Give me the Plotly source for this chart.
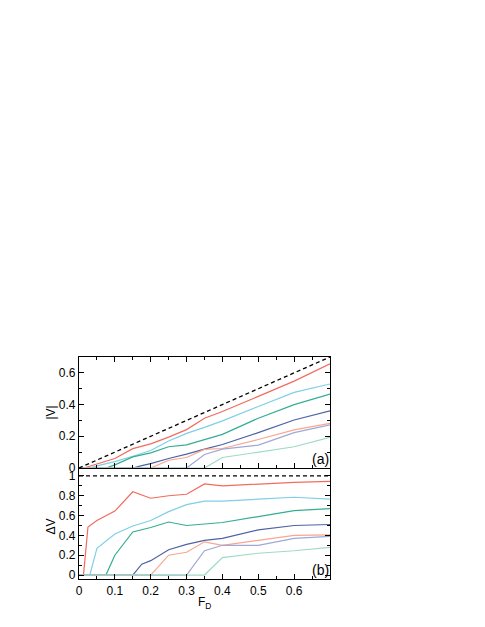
import plotly.graph_objects as go

# colours of the seven curves
colors = ["#f26b5e", "#7fcfe6", "#35ad93", "#4f62a6", "#f9a68e", "#a0a8d6", "#9fdac4"]

# panel (a): |V| vs F_D
xa = [
    [0, 0.0125, 0.025, 0.05, 0.1, 0.15, 0.2, 0.25, 0.3, 0.35, 0.4, 0.5, 0.6, 0.7],
    [0, 0.03, 0.05, 0.1, 0.15, 0.2, 0.25, 0.3, 0.35, 0.4, 0.5, 0.6, 0.7],
    [0, 0.075, 0.1, 0.15, 0.2, 0.25, 0.3, 0.35, 0.4, 0.5, 0.6, 0.7],
    [0, 0.15, 0.175, 0.2, 0.25, 0.3, 0.35, 0.4, 0.5, 0.6, 0.7],
    [0, 0.2, 0.25, 0.3, 0.35, 0.4, 0.5, 0.6, 0.7],
    [0, 0.3, 0.35, 0.4, 0.5, 0.6, 0.7],
    [0, 0.35, 0.4, 0.5, 0.6, 0.7],
]
ya = [
    [0, 0, 0.008, 0.025, 0.06, 0.122, 0.152, 0.195, 0.242, 0.314, 0.356, 0.452, 0.548, 0.657],
    [0, 0, 0.013, 0.04, 0.074, 0.11, 0.17, 0.218, 0.256, 0.297, 0.388, 0.477, 0.53],
    [0, 0, 0.02, 0.07, 0.095, 0.134, 0.146, 0.18, 0.212, 0.314, 0.40, 0.466],
    [0, 0, 0.015, 0.028, 0.06, 0.087, 0.119, 0.148, 0.223, 0.303, 0.36],
    [0, 0, 0.049, 0.066, 0.117, 0.123, 0.18, 0.24, 0.282],
    [0, 0, 0.085, 0.119, 0.144, 0.223, 0.272],
    [0, 0, 0.066, 0.098, 0.134, 0.193],
]

# panel (b): Delta V vs F_D
xb = [
    [0, 0.0125, 0.025, 0.05, 0.1, 0.15, 0.2, 0.25, 0.3, 0.35, 0.4, 0.5, 0.6, 0.7],
    [0, 0.03, 0.05, 0.1, 0.15, 0.2, 0.25, 0.3, 0.35, 0.4, 0.5, 0.6, 0.7],
    [0, 0.075, 0.1, 0.15, 0.2, 0.25, 0.3, 0.35, 0.4, 0.5, 0.6, 0.7],
    [0, 0.15, 0.175, 0.2, 0.25, 0.3, 0.35, 0.4, 0.5, 0.6, 0.7],
    [0, 0.2, 0.25, 0.3, 0.35, 0.4, 0.5, 0.6, 0.7],
    [0, 0.3, 0.35, 0.4, 0.5, 0.6, 0.7],
    [0, 0.35, 0.4, 0.5, 0.6, 0.7],
]
yb = [
    [0, 0, 0.485, 0.55, 0.645, 0.84, 0.775, 0.80, 0.815, 0.92, 0.90, 0.92, 0.935, 0.945],
    [0, 0, 0.27, 0.415, 0.495, 0.55, 0.64, 0.71, 0.745, 0.745, 0.765, 0.785, 0.765],
    [0, 0, 0.20, 0.435, 0.48, 0.535, 0.50, 0.515, 0.53, 0.59, 0.65, 0.67],
    [0, 0, 0.11, 0.145, 0.255, 0.31, 0.35, 0.37, 0.455, 0.50, 0.51],
    [0, 0, 0.20, 0.23, 0.335, 0.30, 0.35, 0.40, 0.405],
    [0, 0, 0.245, 0.30, 0.30, 0.37, 0.39],
    [0, 0, 0.175, 0.22, 0.245, 0.28],
]

# reference lines
diag_x = [0, 0.7]
diag_y = [0, 0.7]
unit_x = [0, 0.7]
unit_y = [1, 1]

# tick labels
fd_ticks = [0, 0.1, 0.2, 0.3, 0.4, 0.5, 0.6]
fd_labels = ["0", "0.1", "0.2", "0.3", "0.4", "0.5", "0.6"]
v_ticks = [0, 0.2, 0.4, 0.6]
v_labels = ["0", "0.2", "0.4", "0.6"]
dv_ticks = [0, 0.2, 0.4, 0.6, 0.8, 1]
dv_labels = ["0", "0.2", "0.4", "0.6", "0.8", "1"]

fig = go.Figure()

for i in range(7):
    fig.add_trace(go.Scatter(x=xa[i], y=ya[i], mode="lines", xaxis="x", yaxis="y",
                             line=dict(color=colors[i], width=1.2), showlegend=False))
fig.add_trace(go.Scatter(x=diag_x, y=diag_y, mode="lines", xaxis="x", yaxis="y",
                         line=dict(color="black", width=1.3, dash="4px,3px"), showlegend=False))

for i in range(7):
    fig.add_trace(go.Scatter(x=xb[i], y=yb[i], mode="lines", xaxis="x2", yaxis="y2",
                             line=dict(color=colors[i], width=1.2), showlegend=False))
fig.add_trace(go.Scatter(x=unit_x, y=unit_y, mode="lines", xaxis="x2", yaxis="y2",
                         line=dict(color="black", width=1.3, dash="4px,3px"), showlegend=False))

axis_common = dict(showline=True, linecolor="black", linewidth=1.2,
                   ticks="inside", ticklen=5, tickcolor="black", tickwidth=1,
                   showgrid=False, zeroline=False, automargin=False,
                   tickfont=dict(size=12, color="black"))
minor = dict(ticks="inside", ticklen=3, tickcolor="black", tickwidth=1, showgrid=False)

# the page body adds 8px on the left/top, so the figure is a bit smaller
fig.update_layout(
    width=469, height=611,
    paper_bgcolor="white", plot_bgcolor="white",
    font=dict(family="Liberation Sans, Arial, sans-serif", size=12, color="black"),
    margin=dict(l=71, r=147, t=349, b=40),
    xaxis=dict(domain=[0, 1], anchor="y", range=[0, 0.7], tickvals=fd_ticks + [0.7],
               showticklabels=False, mirror="ticks",
               minor=dict(dtick=0.05, **minor), **axis_common),
    yaxis=dict(domain=[0.5, 1], anchor="x", range=[0, 0.7], tickvals=v_ticks, ticktext=v_labels,
               mirror="ticks", minor=dict(dtick=0.1, **minor), **axis_common),
    xaxis2=dict(domain=[0, 1], anchor="y2", range=[0, 0.7], tickvals=fd_ticks, ticktext=fd_labels,
                mirror=False, minor=dict(dtick=0.05, **minor), **axis_common),
    yaxis2=dict(domain=[0, 0.5], anchor="x2", range=[-0.04, 1.08], tickvals=dv_ticks, ticktext=dv_labels,
                mirror="ticks", minor=dict(dtick=0.1, **minor), **axis_common),
    annotations=[
        dict(text="(a)", x=1, y=0, xref="x domain", yref="y domain", xanchor="right",
             yanchor="bottom", showarrow=False, font=dict(size=14), xshift=1, yshift=-1),
        dict(text="(b)", x=1, y=0, xref="x2 domain", yref="y2 domain", xanchor="right",
             yanchor="bottom", showarrow=False, font=dict(size=14), xshift=1, yshift=-1),
        dict(text="|V|", x=0, y=0.5, xref="x domain", yref="y domain", xanchor="center",
             yanchor="middle", textangle=-90, showarrow=False, font=dict(size=12), xshift=-29),
        dict(text="ΔV", x=0, y=0.5, xref="x2 domain", yref="y2 domain", xanchor="center",
             yanchor="middle", textangle=-90, showarrow=False, font=dict(size=12), xshift=-29,
             yshift=-3),
        dict(text="F<sub>D</sub>", x=0.5, y=0, xref="x2 domain", yref="y2 domain", xanchor="center",
             yanchor="middle", showarrow=False, font=dict(size=12), yshift=-24),
    ],
)

fig.write_html("out.html")
